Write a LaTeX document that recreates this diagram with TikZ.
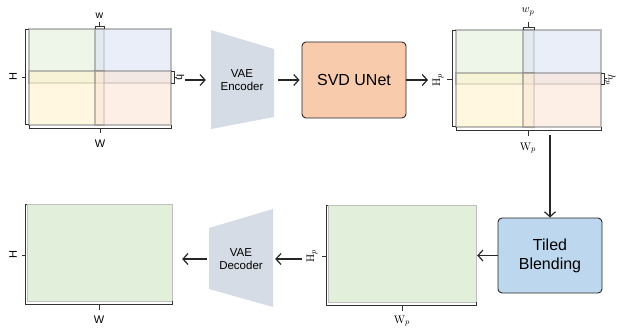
\documentclass[tikz,border=0pt]{standalone}
\usepackage[no-math]{fontspec}
\setmainfont{Liberation Sans}
\usepackage{amsmath}
\usetikzlibrary{arrows.meta,positioning}
\definecolor{tilegreen}{HTML}{E2EFDA}
\definecolor{tileblue}{HTML}{DAE3F3}
\definecolor{tileyellow}{HTML}{FFF2CC}
\definecolor{tilepink}{HTML}{FBE5D6}
\definecolor{unetfill}{HTML}{F8CBAD}
\definecolor{blendfill}{HTML}{BDD7EE}
\definecolor{vaefill}{HTML}{D6DCE5}
\tikzstyle{block}=[draw=black!85, rectangle, rounded corners=4pt, line width=0.9pt, align=center, font=\fontsize{16}{19}\selectfont]
\tikzstyle{vae}=[rectangle, align=center, font=\fontsize{11.5}{13.5}\selectfont, inner sep=0pt]
\tikzstyle{latent}=[rectangle, inner sep=0pt]
\tikzstyle{tile}=[draw=gray, line width=1.2pt, fill opacity=0.6, draw opacity=0.5]
\tikzstyle{frame}=[draw=black!25, line width=1pt, fill=tilegreen]
\tikzstyle{brace}=[draw=black!80, line width=0.7pt]
\tikzstyle{dim}=[font=\fontsize{11}{13}\selectfont, inner sep=0pt]
\tikzstyle{link}=[->, line width=1.2pt, color=black!85]

\begin{document}
\begin{tikzpicture}[x=1pt, y=-1pt, >={Straight Barb[length=5pt,width=11pt]}]
  \useasboundingbox (0,0) rectangle (620,329);

  % input video latent, split in tiles
  \node [latent, minimum width=142pt, minimum height=96pt] (g1) at (100,78) {};
  \filldraw[tile, fill=tilegreen] (29,29) rectangle (104,83);
  \filldraw[tile, fill=tileblue] (95,29) rectangle (171,83);
  \filldraw[tile, fill=tileyellow] (29,71) rectangle (104,125);
  \filldraw[tile, fill=tilepink] (95,71) rectangle (171,125);
  \draw[brace] (29,29) -- (25.5,29) -- (25.5,124) -- (29,124) (25.5,77) -- (21.5,77);
  \draw[brace] (29,125) -- (29,128) -- (171,128) -- (171,125) (100,128) -- (100,133);
  \draw[brace] (95,29) -- (95,26) -- (104,26) -- (104,29) (99.5,26) -- (99.5,22);
  \draw[brace] (171,71) -- (174,71) -- (174,83) -- (171,83) (174,77) -- (177,77);
  \node [dim, rotate=90] (g1H) at (13,77) {H};
  \node [dim] (g1W) at (100,144) {W};
  \node [dim, font=\fontsize{10.5}{12}\selectfont] (g1w) at (99.5,16) {w};
  \node [dim, font=\fontsize{10.5}{12}\selectfont, rotate=-90] (g1h) at (180.5,77) {h};

  % encoder
  \fill[vaefill] (211,30) -- (274,49) -- (274,117) -- (211,129) -- cycle;
  \node [vae, minimum width=72pt, minimum height=30pt] (enc) at (242,80) {VAE\\Encoder};

  % unet
  \node [block, fill=unetfill, minimum width=104pt, minimum height=76pt] (unet) at (354,80) {SVD UNet};

  % output tiles
  \node [latent, minimum width=145pt, minimum height=97pt] (g2) at (528.5,78.5) {};
  \filldraw[tile, fill=tilegreen] (456,30) rectangle (534,84);
  \filldraw[tile, fill=tileblue] (523,30) rectangle (601,84);
  \filldraw[tile, fill=tileyellow] (456,73) rectangle (534,127);
  \filldraw[tile, fill=tilepink] (523,73) rectangle (601,127);
  \draw[brace] (456,30) -- (452,30) -- (452,126) -- (456,126) (452,79) -- (447,79);
  \draw[brace] (456,127) -- (456,130) -- (601,130) -- (601,127) (528.5,130) -- (528.5,136);
  \draw[brace] (523,30) -- (523,27) -- (534,27) -- (534,30) (528.5,27) -- (528.5,22);
  \draw[brace] (601,73) -- (604,73) -- (604,84) -- (601,84) (604,78.5) -- (607,78.5);
  \node [dim, rotate=90] (g2H) at (438,80) {$\mathrm{H}_p$};
  \node [dim] (g2W) at (528,148) {$\mathrm{W}_p$};
  \node [dim] (g2w) at (528,12) {$w_p$};
  \node [dim, rotate=-90] (g2h) at (610,80) {$h_p$};
  \coordinate (g2in) at (428,80);

  % blending
  \node [block, fill=blendfill, minimum width=104pt, minimum height=75pt] (blend) at (550,255.5) {Tiled\\Blending};

  % blended latent
  \node [latent, minimum width=148pt, minimum height=97pt] (g3) at (402,253.5) {};
  \filldraw[frame] (328,205) rectangle (476,302);
  \draw[brace] (328,205) -- (326,205) -- (326,305) -- (476,305) -- (476,302) (326,256) -- (322,256) (402,305) -- (402,311);
  \node [dim, rotate=90] (g3H) at (312,256) {$\mathrm{H}_p$};
  \node [dim] (g3W) at (402,321) {$\mathrm{W}_p$};

  % decoder
  \fill[vaefill] (209,228) -- (273,209) -- (273,307) -- (209,289) -- cycle;
  \node [vae, minimum width=68pt, minimum height=30pt] (dec) at (241,259) {VAE\\Decoder};

  % output video
  \node [latent, minimum width=145pt, minimum height=97pt] (g4) at (99.5,252.5) {};
  \filldraw[frame] (27,204) rectangle (172,301);
  \draw[brace] (27,204) -- (25.7,204) -- (25.7,304) -- (172,304) -- (172,301) (25.7,255) -- (21.5,255) (99,304) -- (99,310);
  \node [dim, rotate=90] (g4H) at (13,255) {H};
  \node [dim] (g4W) at (99,320) {W};

  \path[link] (g1.east |- enc.west) edge[shorten <=14pt] (enc.west);
  \path[link] (enc.east) edge[shorten >=2pt] (enc.east -| unet.west);
  \path[link] (unet.east) edge (g2in);
  \path[link] (g2.south -| blend.north) edge[shorten <=8pt] (blend.north);
  \path[link] (blend.west) edge[shorten >=1pt] (blend.west -| g3.east);
  \path[link] (g3.west |- dec.east) edge[shorten <=26pt] (dec.east);
  \path[link] (dec.west) edge[shorten >=10pt] (dec.west -| g4.east);
\end{tikzpicture}
\end{document}
